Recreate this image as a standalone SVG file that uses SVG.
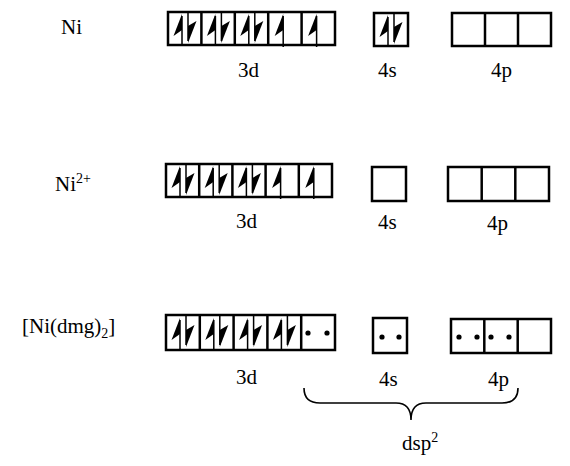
<svg xmlns="http://www.w3.org/2000/svg" width="570" height="466" viewBox="0 0 570 466">
<style>
.box{fill:#fff;stroke:#000;stroke-width:2.5}
.div{stroke:#000;stroke-width:2.5}
.t{font-family:'Liberation Serif','Times New Roman',serif;font-size:21px;fill:#000}
.sh{stroke:#000;stroke-width:1.5}
.brace{fill:none;stroke:#000;stroke-width:1.6}
</style>
<defs>
<g id="pair">
<line class="sh" x1="14" y1="4" x2="14" y2="33"/>
<polygon points="14,2 5.5,24 14,18"/>
<line class="sh" x1="20" y1="0" x2="20" y2="29"/>
<polygon points="20,31 28.5,9 20,14"/>
</g>
<g id="up">
<line class="sh" x1="15" y1="4" x2="15" y2="35"/>
<polygon points="15,2 6.5,24 15,18"/>
</g>
</defs>

<g id="row-ni">
<text class="t" x="61" y="34">Ni</text>
<g id="ni-3d">
<rect class="box" x="168" y="12" width="167" height="33"/>
<line class="div" x1="201.4" y1="12" x2="201.4" y2="45"/>
<line class="div" x1="234.8" y1="12" x2="234.8" y2="45"/>
<line class="div" x1="268.2" y1="12" x2="268.2" y2="45"/>
<line class="div" x1="301.6" y1="12" x2="301.6" y2="45"/>
<use href="#pair" x="168" y="12"/>
<use href="#pair" x="201.4" y="12"/>
<use href="#pair" x="234.8" y="12"/>
<use href="#up" x="268.2" y="12"/>
<use href="#up" x="301.6" y="12"/>
<text class="t" x="238" y="77">3d</text>
</g>
<g id="ni-4s">
<rect class="box" x="374" y="13" width="34" height="33"/>
<use href="#pair" x="374" y="13"/>
<text class="t" x="378" y="77">4s</text>
</g>
<g id="ni-4p">
<rect class="box" x="452" y="13" width="99" height="33"/>
<line class="div" x1="485" y1="13" x2="485" y2="46"/>
<line class="div" x1="518" y1="13" x2="518" y2="46"/>
<text class="t" x="491" y="77">4p</text>
</g>
</g>

<g id="row-ni2">
<text class="t" x="55" y="191">Ni<tspan font-size="14" dy="-8">2+</tspan></text>
<g id="ni2-3d">
<rect class="box" x="166" y="164" width="166" height="33"/>
<line class="div" x1="199.2" y1="164" x2="199.2" y2="197"/>
<line class="div" x1="232.4" y1="164" x2="232.4" y2="197"/>
<line class="div" x1="265.6" y1="164" x2="265.6" y2="197"/>
<line class="div" x1="298.8" y1="164" x2="298.8" y2="197"/>
<use href="#pair" x="166" y="164"/>
<use href="#pair" x="199.2" y="164"/>
<use href="#pair" x="232.4" y="164"/>
<use href="#up" x="265.6" y="164"/>
<use href="#up" x="298.8" y="164"/>
<text class="t" x="236" y="228">3d</text>
</g>
<g id="ni2-4s">
<rect class="box" x="372" y="167" width="34" height="34"/>
<text class="t" x="378" y="229">4s</text>
</g>
<g id="ni2-4p">
<rect class="box" x="448" y="167" width="101" height="34"/>
<line class="div" x1="481.7" y1="167" x2="481.7" y2="201"/>
<line class="div" x1="515.3" y1="167" x2="515.3" y2="201"/>
<text class="t" x="487" y="230">4p</text>
</g>
</g>

<g id="row-dmg">
<text class="t" x="22" y="333">[Ni(dmg)<tspan font-size="14" dy="5">2</tspan><tspan dy="-5">]</tspan></text>
<g id="dmg-3d">
<rect class="box" x="166" y="315" width="169" height="35"/>
<line class="div" x1="199.8" y1="315" x2="199.8" y2="350"/>
<line class="div" x1="233.6" y1="315" x2="233.6" y2="350"/>
<line class="div" x1="267.4" y1="315" x2="267.4" y2="350"/>
<line class="div" x1="301.2" y1="315" x2="301.2" y2="350"/>
<use href="#pair" x="166" y="316"/>
<use href="#pair" x="199.8" y="316"/>
<use href="#pair" x="233.6" y="316"/>
<use href="#pair" x="267.4" y="316"/>
<circle cx="308" cy="333" r="2.6"/>
<circle cx="327" cy="333" r="2.6"/>
<text class="t" x="236" y="384">3d</text>
</g>
<g id="dmg-4s">
<rect class="box" x="373" y="318" width="34" height="35"/>
<circle cx="382" cy="337" r="2.6"/>
<circle cx="399" cy="337" r="2.6"/>
<text class="t" x="379" y="386">4s</text>
</g>
<g id="dmg-4p">
<rect class="box" x="451" y="319" width="100" height="34"/>
<line class="div" x1="484.3" y1="319" x2="484.3" y2="353"/>
<line class="div" x1="517.7" y1="319" x2="517.7" y2="353"/>
<circle cx="459" cy="337" r="2.6"/>
<circle cx="477" cy="337" r="2.6"/>
<circle cx="491" cy="337" r="2.6"/>
<circle cx="509" cy="337" r="2.6"/>
<text class="t" x="488" y="386">4p</text>
</g>
</g>

<g id="connectors">
<path class="brace" d="M304,388 Q304,403 320,403 L396,403 Q411,403 411,420 Q411,403 426,403 L502,403 Q518,403 518,388"/>
</g>
<g id="dsp2">
<text class="t" x="402" y="450">dsp<tspan font-size="14" dy="-8">2</tspan></text>
</g>
</svg>
